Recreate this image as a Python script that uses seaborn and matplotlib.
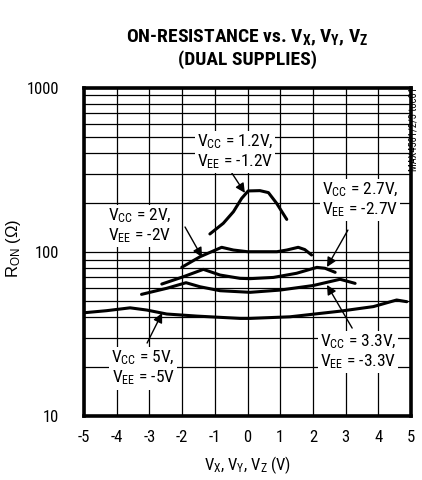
import numpy as np
import pandas as pd
import matplotlib
matplotlib.use("Agg")
import matplotlib.pyplot as plt
from matplotlib.ticker import LogLocator, FixedLocator, NullFormatter
import matplotlib.font_manager as fm
import seaborn as sns

# ---- data ----
v12_x = [-1.15, -0.74, -0.43, -0.18, 0.02, 0.38, 0.64, 0.89, 1.2]
v12_y = [128.8, 149.6, 176, 212, 235.5, 236.5, 230, 198, 158]

v2_x = [-2.01, -1.45, -0.79, -0.43, 0.0, 0.48, 0.9, 1.2, 1.55, 1.75, 1.96]
v2_y = [80.7, 93.6, 106.8, 102.8, 100.4, 100.4, 100.4, 102.8, 106.8, 103.5, 95.9]

v27_x = [-2.62, -1.96, -1.35, -0.84, -0.23, 0.08, 0.79, 1.5, 2.12, 2.37, 2.68]
v27_y = [63.8, 70.7, 78.4, 72.4, 69.1, 68.8, 70.0, 74.2, 80.6, 79.6, 75.2]

v33_x = [-3.24, -2.47, -1.88, -1.45, -0.84, 0.08, 0.99, 2.01, 2.83, 3.29]
v33_y = [55.2, 60.1, 65.0, 61.4, 58.1, 56.8, 58.6, 62.5, 68.2, 64.4]

v5_x = [-4.97, -4.31, -3.59, -3.08, -2.47, -1.55, -0.23, 0.08, 1.3, 2.83, 3.85, 4.56, 4.87]
v5_y = [42.7, 43.9, 45.7, 44.3, 41.9, 40.7, 39.4, 39.4, 40.3, 43.6, 46.5, 51.0, 49.8]

series_names = ["1.2", "2", "2.7", "3.3", "5"]
y_ticks = [10, 100, 1000]
x_ticks = [-5, -4, -3, -2, -1, 0, 1, 2, 3, 4, 5]

ann_labels = [
    "$\\mathregular{V_{CC}}$ = 1.2V,\n$\\mathregular{V_{EE}}$ = -1.2V",
    "$\\mathregular{V_{CC}}$ = 2.7V,\n$\\mathregular{V_{EE}}$ = -2.7V",
    "$\\mathregular{V_{CC}}$ = 2V,\n$\\mathregular{V_{EE}}$ = -2V",
    "$\\mathregular{V_{CC}}$ = 5V,\n$\\mathregular{V_{EE}}$ = -5V",
    "$\\mathregular{V_{CC}}$ = 3.3V,\n$\\mathregular{V_{EE}}$ = -3.3V",
]
ann_head = [(-0.08, 229), (2.43, 81), (-1.39, 93), (-2.61, 42.5), (2.43, 63)]
ann_tail = [(-0.54, 316), (3.07, 136), (-1.91, 142), (-3.07, 27.9), (3.2, 34.4)]
ann_text = [(-0.38, 407), (3.44, 207), (-3.29, 144), (-3.19, 19.6), (3.38, 24.6)]

frames = []
for name, xs, ys in zip(series_names,
                        [v12_x, v2_x, v27_x, v33_x, v5_x],
                        [v12_y, v2_y, v27_y, v33_y, v5_y]):
    frames.append(pd.DataFrame({"V": xs, "R": ys, "supply": name}))
df = pd.concat(frames, ignore_index=True)

sns.set_theme(style="white")

entries = [(f.name, f.weight) for f in fm.fontManager.ttflist]
names = {n for n, _ in entries}


def has_bold(n):
    return any(nm == n and (w == 700 or w == "bold") for nm, w in entries)


reg_pref = ["Roboto Condensed", "Liberation Sans Narrow", "Nimbus Sans Narrow",
            "Arial Narrow", "Archivo Narrow", "Asap Condensed", "Liberation Sans"]
reg_font = next((n for n in reg_pref if n in names), "DejaVu Sans")
bold_pref = ["Roboto Condensed", "Liberation Sans Narrow", "Nimbus Sans Narrow",
             "Archivo Narrow", "Asap Condensed", "Barlow Condensed", "Liberation Sans"]
bold_font = next((n for n in bold_pref if n in names and has_bold(n)), "DejaVu Sans")

plt.rcParams["font.family"] = [reg_font, "DejaVu Sans"]
plt.rcParams["axes.unicode_minus"] = False
plt.rcParams["mathtext.default"] = "regular"

fig = plt.figure(figsize=(4.22, 4.8), dpi=100)
ax = fig.add_axes([0.199, 0.133, 0.775, 0.684])

sns.lineplot(data=df, x="V", y="R", units="supply", estimator=None, sort=False,
             color="black", linewidth=2.2, ax=ax, zorder=3, legend=False)

ax.set_yscale("log")
ax.set_ylim(10, 1000)
ax.set_xlim(-5, 5)
ax.yaxis.set_major_locator(FixedLocator(y_ticks))
ax.set_yticklabels([str(t) for t in y_ticks])
ax.yaxis.set_minor_locator(LogLocator(base=10, subs=np.arange(2, 10)))
ax.yaxis.set_minor_formatter(NullFormatter())
ax.xaxis.set_major_locator(FixedLocator(x_ticks))
ax.set_xticklabels([str(t) for t in x_ticks])

ax.grid(True, which="major", color="black", linewidth=0.9, zorder=1)
ax.grid(True, which="minor", axis="y", color="black", linewidth=0.9, zorder=1)
ax.set_axisbelow(True)
for s in ax.spines.values():
    s.set_linewidth(2.6)
    s.set_color("black")
ax.tick_params(axis="both", which="both", length=0, labelsize=12, colors="black")
ax.tick_params(axis="y", pad=18)
ax.tick_params(axis="x", pad=10)

ax.set_xlabel("$\\mathregular{V_{X}}$, $\\mathregular{V_{Y}}$, $\\mathregular{V_{Z}}$ (V)",
              fontsize=12, color="black", labelpad=7)
ax.set_ylabel("$\\mathregular{R_{ON}}$ (Ω)", fontsize=12, color="black",
              family=["Liberation Sans", "DejaVu Sans"])
ax.yaxis.set_label_coords(-0.187, 0.51)

fig.text(0.5865, 0.920, "ON-RESISTANCE vs. $\\mathregular{V_{X}}$, $\\mathregular{V_{Y}}$, $\\mathregular{V_{Z}}$",
         ha="center", va="center", fontsize=14, fontweight="bold", color="black",
         family=[bold_font, "DejaVu Sans"])
fig.text(0.5865, 0.875, "(DUAL SUPPLIES)", ha="center", va="center",
         fontsize=14, fontweight="bold", color="black",
         family=[bold_font, "DejaVu Sans"])

fig.text(0.981, 0.818, "MAX4581/2/3 toc01", rotation=90, ha="center", va="top",
         fontsize=7.5, color="black")

for lab, head, tail, tpos in zip(ann_labels, ann_head, ann_tail, ann_text):
    ax.annotate("", xy=head, xytext=tail,
                arrowprops=dict(arrowstyle="-|>", color="black", lw=1.0,
                                mutation_scale=14, shrinkA=0, shrinkB=0),
                zorder=5)
    ax.text(tpos[0], tpos[1], lab, ha="center", va="center", multialignment="center",
            fontsize=12.5, color="black", linespacing=1.1, zorder=6,
            bbox=dict(facecolor="white", edgecolor="none", pad=1.5))

fig.savefig("out.png", dpi=100)
